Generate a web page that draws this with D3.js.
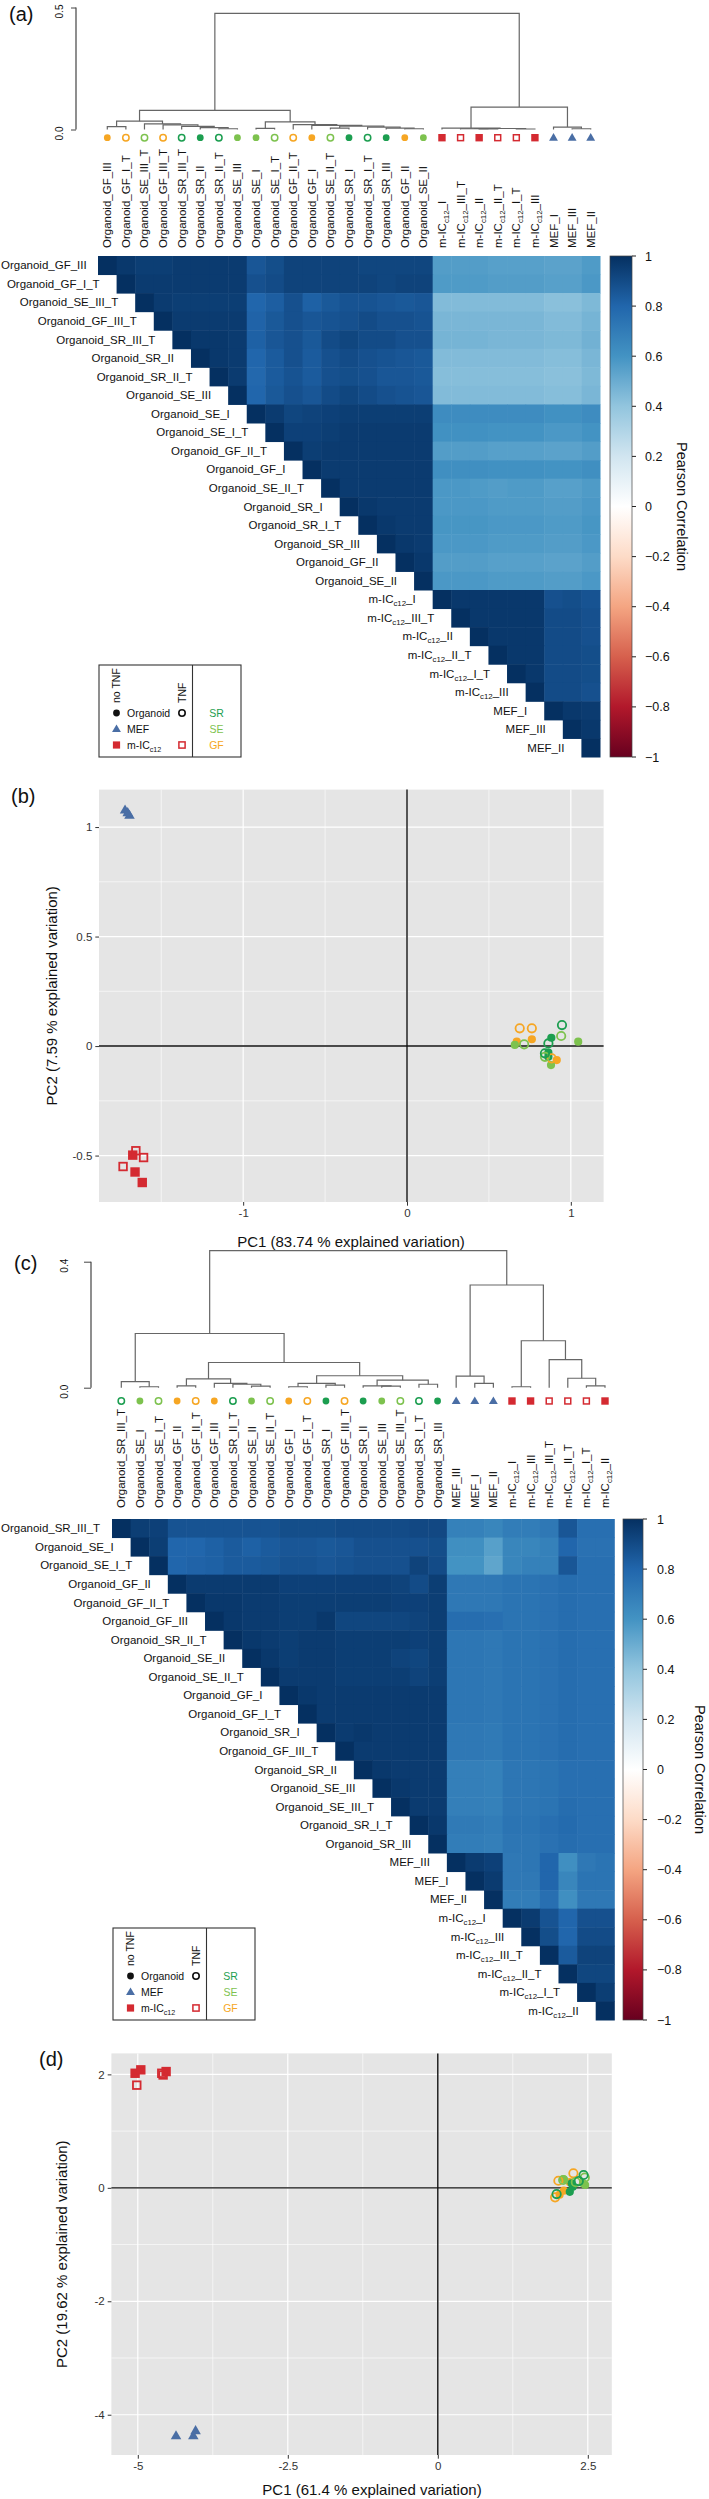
<!DOCTYPE html>
<html><head><meta charset="utf-8">
<script src="https://cdn.jsdelivr.net/npm/d3@7"></script>
<style>
body{margin:0;background:#fff}
text{font-family:"Liberation Sans",Arial,Helvetica,sans-serif}
</style></head>
<body><svg id="chart" width="709" height="2499"></svg>
<script>
// ---------------- DATA ----------------
const labelsA = ["Organoid_GF_III","Organoid_GF_I_T","Organoid_SE_III_T","Organoid_GF_III_T","Organoid_SR_III_T","Organoid_SR_II","Organoid_SR_II_T","Organoid_SE_III","Organoid_SE_I","Organoid_SE_I_T","Organoid_GF_II_T","Organoid_GF_I","Organoid_SE_II_T","Organoid_SR_I","Organoid_SR_I_T","Organoid_SR_III","Organoid_GF_II","Organoid_SE_II","m-IC_c12_I","m-IC_c12_III_T","m-IC_c12_II","m-IC_c12_II_T","m-IC_c12_I_T","m-IC_c12_III","MEF_I","MEF_III","MEF_II"];
// upper-triangle correlations (x100), row i holds columns i..26
const corrA = [
[100,97,95,95,96,96,96,96,86,89,93,93,93,93,92,92,92,92,56,56,56,55,55,55,54,54,57],
[100,96,96,96,96,96,96,88,90,93,93,93,93,93,92,93,93,57,57,57,56,56,56,55,55,58],
[100,96,95,95,95,95,80,83,88,82,85,87,87,86,85,86,44,44,44,44,44,44,42,42,45],
[100,96,96,96,96,81,85,88,86,87,88,90,88,88,87,46,46,46,46,46,46,44,44,47],
[100,97,97,96,82,86,88,85,90,92,90,90,88,88,47,47,47,46,46,46,45,45,48],
[100,97,96,80,84,88,84,88,90,88,87,86,85,44,44,44,44,44,44,43,43,46],
[100,96,79,84,87,84,88,89,88,86,86,85,43,43,43,43,43,43,42,42,45],
[100,80,85,88,86,90,92,90,88,87,86,44,44,44,44,44,44,43,43,46],
[100,96,92,93,94,95,95,95,95,95,63,63,63,63,63,63,61,61,63],
[100,94,94,95,96,96,96,96,96,61,61,61,60,60,60,58,58,60],
[100,95,96,96,96,96,96,96,56,56,56,55,55,55,54,54,56],
[100,96,96,96,96,96,96,62,62,62,61,61,61,60,60,62],
[100,96,96,96,96,96,58,58,57,56,57,57,55,55,57],
[100,97,96,96,96,58,58,58,57,57,57,56,56,58],
[100,97,96,96,59,59,59,58,58,58,57,57,59],
[100,97,96,58,58,58,57,57,57,56,56,58],
[100,97,56,56,56,55,55,55,54,54,56],
[100,58,58,58,57,57,57,56,56,58],
[100,97,97,97,97,97,88,89,87],
[100,97,97,97,97,90,90,88],
[100,97,97,97,90,90,88],
[100,97,97,90,90,89],
[100,97,90,90,89],
[100,90,90,88],
[100,97,96],
[100,97],
[100]
];
// dendrogram A: [left, right, height]; numbers are leaf indices
const treeA = [
  [[[0,1,0.012],[2,[3,[4,[5,[6,7,0.003],0.008],0.013],0.019],0.023],0.034],
   [[8,9,0.005],[10,[11,[[12,13,0.006],[14,[15,[16,17,0.003],0.006],0.010],0.014],0.017],0.020],0.031],0.078],
  [[18,[[19,[20,21,0.002],0.003],[22,23,0.002],0.004],0.006],[24,[25,26,0.003],0.010],0.092],
  0.476];

const labelsC = ["Organoid_SR_III_T","Organoid_SE_I","Organoid_SE_I_T","Organoid_GF_II","Organoid_GF_II_T","Organoid_GF_III","Organoid_SR_II_T","Organoid_SE_II","Organoid_SE_II_T","Organoid_GF_I","Organoid_GF_I_T","Organoid_SR_I","Organoid_GF_III_T","Organoid_SR_II","Organoid_SE_III","Organoid_SE_III_T","Organoid_SR_I_T","Organoid_SR_III","MEF_III","MEF_I","MEF_II","m-IC_c12_I","m-IC_c12_III","m-IC_c12_III_T","m-IC_c12_II_T","m-IC_c12_I_T","m-IC_c12_II"];
const corrC = [
[100,95,94,87,87,87,87,87,87,89,89,89,90,90,90,90,91,91,68,68,66,70,70,72,86,76,76],
[100,95,80,80,82,84,82,84,86,86,85,86,88,88,88,88,89,62,62,55,66,66,68,80,75,75],
[100,80,81,82,84,84,85,87,87,86,87,88,88,88,93,90,60,60,53,66,68,68,86,76,76],
[100,96,96,96,96,96,94,94,94,94,94,94,93,90,95,72,72,72,74,74,75,77,76,76],
[100,97,97,96,96,95,95,95,95,95,95,94,94,95,72,72,72,74,74,75,77,76,76],
[100,97,96,96,95,95,97,92,92,92,92,93,95,77,77,76,74,74,75,77,76,76],
[100,97,96,95,96,96,95,95,95,95,94,95,73,73,72,74,74,75,77,76,76],
[100,97,95,96,96,95,95,95,93,92,95,73,73,72,74,74,75,77,76,76],
[100,96,96,96,95,95,95,95,93,95,73,73,72,74,74,75,77,76,76],
[100,97,96,96,96,96,96,96,96,73,73,72,74,74,75,77,76,76],
[100,96,96,96,96,96,96,96,73,73,72,74,74,75,77,76,76],
[100,96,97,96,96,96,96,72,72,71,74,74,75,77,76,76],
[100,96,96,96,96,96,72,72,71,74,74,75,77,76,76],
[100,97,96,96,96,69,69,68,73,73,74,76,76,76],
[100,97,96,96,69,69,68,73,73,74,76,76,76],
[100,96,96,69,69,68,73,73,74,77,76,76],
[100,97,71,71,70,74,74,76,78,76,76],
[100,70,70,69,73,73,75,77,76,76],
[100,96,94,72,73,80,62,72,74],
[100,96,72,72,80,66,74,74],
[100,70,70,76,62,72,72],
[100,96,87,80,88,88],
[100,89,80,90,90],
[100,84,93,93],
[100,92,92],
[100,95],
[100]
];
const treeC = [
  [[0,[1,2,0.003],0.019],
   [[[3,4,0.006],[5,[6,[7,8,0.005],0.011],0.014],0.028],
    [[[9,10,0.003],[11,12,0.008],0.014],[[13,[14,15,0.005],0.006],[16,17,0.011],0.024],0.038],0.080],0.172],
  [[18,[19,20,0.014],0.037],[[21,22,0.003],[23,[24,[25,26,0.006],0.030],0.089],0.149],0.326],
  0.435];

// PCA (b)
const pcaB_sample = ["Organoid_GF_I","Organoid_GF_II","Organoid_GF_III","Organoid_SE_I","Organoid_SE_II","Organoid_SE_III","Organoid_SR_I","Organoid_SR_II","Organoid_SR_III","Organoid_GF_I_T","Organoid_GF_II_T","Organoid_GF_III_T","Organoid_SE_I_T","Organoid_SE_II_T","Organoid_SE_III_T","Organoid_SR_I_T","Organoid_SR_II_T","Organoid_SR_III_T","m-IC_c12_I","m-IC_c12_II","m-IC_c12_III","m-IC_c12_I_T","m-IC_c12_II_T","m-IC_c12_III_T","MEF_I","MEF_II","MEF_III"];
const pcaB_pc1 = [0.670,0.762,0.914,0.658,1.045,0.879,0.881,0.863,0.863,0.688,0.762,0.883,0.715,0.941,0.842,0.946,0.863,0.842,-1.674,-1.660,-1.616,-1.655,-1.608,-1.733,-1.721,-1.694,-1.705];
const pcaB_pc2 = [0.020,0.031,-0.064,0.005,0.020,-0.087,0.038,-0.030,-0.049,0.081,0.081,-0.056,0.008,0.046,-0.049,0.096,0.012,-0.033,-0.498,-0.575,-0.623,-0.478,-0.509,-0.550,1.078,1.054,1.066];
const pcaB_xMajor = [-1,0,1], pcaB_xMinor = [-1.5,-0.5,0.5];
const pcaB_yMajor = [-0.5,0,0.5,1], pcaB_yMinor = [-0.25,0.25,0.75];

// PCA (d)
const pcaD_sample = pcaB_sample;
const pcaD_pc1 = [2.03,2.10,2.20,2.455,2.42,2.10,2.23,2.20,2.25,2.01,2.26,1.955,2.09,2.45,2.30,1.98,2.43,2.35,-5.045,-4.95,-4.528,-5.017,-4.60,-4.578,-4.363,-4.075,-4.037];
const pcaD_pc2 = [-0.12,-0.05,0.10,0.05,0.08,0.15,0.079,-0.07,0.02,0.125,0.256,-0.168,0.138,0.18,0.10,-0.11,0.226,0.12,2.02,2.08,2.05,1.81,2.02,1.99,-4.37,-4.37,-4.28];
const pcaD_xMajor = [-5,-2.5,0,2.5], pcaD_xMinor = [-3.75,-1.25,1.25];
const pcaD_yMajor = [-4,-2,0,2], pcaD_yMinor = [-3,-1,1];

const cbTicks = [1,0.8,0.6,0.4,0.2,0,-0.2,-0.4,-0.6,-0.8,-1];
const rdbuStops = ["#67001F","#B2182B","#D6604D","#F4A582","#FDDBC7","#FFFFFF","#D1E5F0","#92C5DE","#4393C3","#2166AC","#053061"];

// ---------------- HELPERS ----------------
const svgEl = d3.select("#chart");
const defs = svgEl.append("defs");
const svg = svgEl.append("g");
const COL = {GF:"#f6a623", SE:"#7dc24e", SR:"#1c9e50", MIC:"#d42a31", MEF:"#4a6ea5"};
const rdbu = d3.scaleLinear().domain(rdbuStops.map((c,i)=>-1+i*0.2)).range(rdbuStops);

function info(lab){
  const tnf = /_T$/.test(lab);
  if(lab.startsWith("Organoid")) return {type:"org", tnf, color:COL[lab.split("_")[1]]};
  if(lab.startsWith("MEF")) return {type:"mef", tnf, color:COL.MEF};
  return {type:"mic", tnf, color:COL.MIC};
}
function setLabel(t, lab){
  const m = lab.match(/^m-IC_c12(_.*)$/);
  if(m){
    t.append("tspan").text("m-IC");
    t.append("tspan").attr("dy",3).style("font-size","0.68em").text("c12");
    t.append("tspan").attr("dy",-3).text(m[1]);
  } else t.text(lab);
}
function marker(g, lab, x, y, S){
  const f = info(lab);
  if(f.type==="org"){
    if(f.tnf) g.append("circle").attr("cx",x).attr("cy",y).attr("r",S.ro).attr("fill","none").attr("stroke",f.color).attr("stroke-width",S.sw);
    else g.append("circle").attr("cx",x).attr("cy",y).attr("r",S.rf).attr("fill",f.color);
  } else if(f.type==="mic"){
    if(f.tnf){const s=S.sq-S.sw; g.append("rect").attr("x",x-s/2).attr("y",y-s/2).attr("width",s).attr("height",s).attr("fill","none").attr("stroke",f.color).attr("stroke-width",S.sw);}
    else g.append("rect").attr("x",x-S.sq/2).attr("y",y-S.sq/2).attr("width",S.sq).attr("height",S.sq).attr("fill",f.color);
  } else {
    g.append("path").attr("d",d3.symbol(d3.symbolTriangle,S.tri)()).attr("transform",`translate(${x},${y+0.5})`).attr("fill",f.color);
  }
}
function panelLabel(txt,x,y){
  svg.append("text").attr("x",x).attr("y",y).style("font-size","20px").attr("fill","#111").text(txt);
}

function heatmap(P){
  const n = P.labels.length;
  const g = svg.append("g");
  const xs = d3.scaleBand().domain(d3.range(n)).range([P.x0,P.x1]);
  const ys = d3.scaleBand().domain(d3.range(n)).range([P.y0,P.y1]);
  P.rows.forEach((row,i)=>row.forEach((v,k)=>{
    const j=i+k;
    g.append("rect").attr("x",xs(j)).attr("y",ys(i))
      .attr("width",xs.bandwidth()+0.5).attr("height",ys.bandwidth()+0.5)
      .attr("fill",rdbu(v/100));
  }));
  P.labels.forEach((lab,i)=>{
    const t=g.append("text").attr("y",ys(i)+ys.bandwidth()/2+4)
      .attr("text-anchor","end").style("font-size","11.5px").attr("fill","#111");
    setLabel(t,lab);
    const w=t.node().getComputedTextLength();
    t.attr("x",Math.max(xs(i)-17, w+1));
  });
  // colorbar
  const id="grad"+P.id;
  const grad=defs.append("linearGradient").attr("id",id)
    .attr("x1",0).attr("y1",1).attr("x2",0).attr("y2",0);
  rdbuStops.forEach((c,i)=>grad.append("stop").attr("offset",(i*10)+"%").attr("stop-color",c));
  g.append("rect").attr("x",P.cb0).attr("y",P.y0).attr("width",P.cb1-P.cb0).attr("height",P.y1-P.y0)
    .attr("fill",`url(#${id})`).attr("stroke","#444").attr("stroke-width",0.7);
  const cs=d3.scaleLinear().domain([-1,1]).range([P.y1,P.y0]);
  cbTicks.forEach(v=>{
    g.append("line").attr("x1",P.cb1).attr("x2",P.cb1+4).attr("y1",cs(v)).attr("y2",cs(v)).attr("stroke","#222").attr("stroke-width",1);
    g.append("text").attr("x",P.cbl).attr("y",cs(v)+4.5).style("font-size","12.5px").attr("fill","#111")
      .text(String(v).replace("-","\u2212"));
  });
  g.append("text").attr("transform",`translate(${P.tx},${(P.y0+P.y1)/2}) rotate(90)`)
    .attr("text-anchor","middle").attr("dy","0.35em").style("font-size","14.5px").attr("fill","#111")
    .text("Pearson Correlation");
  return xs;
}

function dendro(P){
  const g=svg.append("g");
  const ys=d3.scaleLinear().domain([0,P.top]).range([P.base,P.yTop]);
  const lx = i => P.xs(i)+P.xs.bandwidth()/2;
  function walk(node){
    if(typeof node==="number") return {x:lx(node),h:0};
    const a=walk(node[0]), b=walk(node[1]), h=node[2];
    g.append("path").attr("d",`M${a.x},${ys(a.h)}V${ys(h)}H${b.x}V${ys(b.h)}`)
      .attr("fill","none").attr("stroke","#666").attr("stroke-width",1.2);
    return {x:(a.x+b.x)/2,h};
  }
  walk(P.tree);
  const ax=g.append("g").attr("transform",`translate(${P.axX},0)`)
    .call(d3.axisLeft(ys).tickValues([0,P.top]).tickSize(P.tick).tickFormat(d3.format(".1f")));
  ax.select(".domain").attr("d",`M0,${ys(0)}V${ys(P.top)}`).attr("stroke","#444").attr("stroke-width",1.2);
  ax.selectAll(".tick line").attr("stroke","#444");
  ax.selectAll(".tick text").attr("x",null).attr("dy",null).attr("y",0).attr("text-anchor","middle")
    .attr("transform",`translate(${P.lblX-P.axX},3.5) rotate(-90)`).style("font-size","10px").attr("fill","#111");
  P.labels.forEach((lab,i)=>{
    marker(g,lab,lx(i),P.mY,{rf:3.4,ro:3.2,sw:1.5,sq:7.4,tri:34});
    const t=g.append("text").attr("transform",`translate(${lx(i)+4},${P.lblBottom}) rotate(-90)`)
      .style("font-size","11.5px").attr("fill","#111");
    setLabel(t,lab);
  });
}

function legend(L,T){
  const g=svg.append("g");
  g.append("rect").attr("x",L).attr("y",T).attr("width",142).attr("height",92).attr("fill","#fff").attr("stroke","#333").attr("stroke-width",1.1);
  g.append("line").attr("x1",L+93.5).attr("x2",L+93.5).attr("y1",T).attr("y2",T+92).attr("stroke","#333").attr("stroke-width",1.1);
  const fs="10.5px";
  g.append("text").attr("transform",`translate(${L+21},${T+38}) rotate(-90)`).style("font-size",fs).attr("fill","#111").text("no TNF");
  g.append("text").attr("transform",`translate(${L+87},${T+38}) rotate(-90)`).style("font-size",fs).attr("fill","#111").text("TNF");
  const mx=L+17.5, ox=L+83;
  g.append("circle").attr("cx",mx).attr("cy",T+48).attr("r",3.4).attr("fill","#111");
  g.append("circle").attr("cx",ox).attr("cy",T+48).attr("r",3.2).attr("fill","none").attr("stroke","#111").attr("stroke-width",1.6);
  g.append("path").attr("d",d3.symbol(d3.symbolTriangle,34)()).attr("transform",`translate(${mx},${T+64.5})`).attr("fill",COL.MEF);
  g.append("rect").attr("x",mx-3.6).attr("y",T+80-3.6).attr("width",7.2).attr("height",7.2).attr("fill",COL.MIC);
  g.append("rect").attr("x",ox-3.1).attr("y",T+80-3.1).attr("width",6.2).attr("height",6.2).attr("fill","none").attr("stroke",COL.MIC).attr("stroke-width",1.5);
  g.append("text").attr("x",L+28).attr("y",T+48+3.8).style("font-size",fs).attr("fill","#111").text("Organoid");
  g.append("text").attr("x",L+28).attr("y",T+64+3.8).style("font-size",fs).attr("fill","#111").text("MEF");
  const t=g.append("text").attr("x",L+28).attr("y",T+80+3.8).style("font-size",fs).attr("fill","#111");
  t.append("tspan").text("m-IC"); t.append("tspan").attr("dy",3).style("font-size","0.68em").text("c12");
  [["SR",COL.SR,48],["SE",COL.SE,64],["GF",COL.GF,80]].forEach(([s,c,dy])=>{
    g.append("text").attr("x",L+117.5).attr("y",T+dy+3.8).attr("text-anchor","middle").style("font-size",fs).attr("fill",c).text(s);
  });
}

function pca(P){
  const g=svg.append("g");
  const x=d3.scaleLinear().domain(P.xDom).range([P.x0,P.x1]);
  const y=d3.scaleLinear().domain(P.yDom).range([P.y1,P.y0]);
  g.append("rect").attr("x",P.x0).attr("y",P.y0).attr("width",P.x1-P.x0).attr("height",P.y1-P.y0).attr("fill","#e5e5e5");
  P.xMinor.forEach(v=>g.append("line").attr("x1",x(v)).attr("x2",x(v)).attr("y1",P.y0).attr("y2",P.y1).attr("stroke","#fff").attr("stroke-width",0.6));
  P.yMinor.forEach(v=>g.append("line").attr("y1",y(v)).attr("y2",y(v)).attr("x1",P.x0).attr("x2",P.x1).attr("stroke","#fff").attr("stroke-width",0.6));
  P.xMajor.forEach(v=>g.append("line").attr("x1",x(v)).attr("x2",x(v)).attr("y1",P.y0).attr("y2",P.y1).attr("stroke","#fff").attr("stroke-width",1.2));
  P.yMajor.forEach(v=>g.append("line").attr("y1",y(v)).attr("y2",y(v)).attr("x1",P.x0).attr("x2",P.x1).attr("stroke","#fff").attr("stroke-width",1.2));
  g.append("line").attr("x1",x(0)).attr("x2",x(0)).attr("y1",P.y0).attr("y2",P.y1).attr("stroke","#111").attr("stroke-width",1.4);
  g.append("line").attr("y1",y(0)).attr("y2",y(0)).attr("x1",P.x0).attr("x2",P.x1).attr("stroke","#111").attr("stroke-width",1.4);
  const ax=g.append("g").attr("transform",`translate(${P.x0},0)`)
    .call(d3.axisLeft(y).tickValues(P.yMajor).tickSize(3.7).tickPadding(3).tickFormat(v=>String(v)));
  const bx=g.append("g").attr("transform",`translate(0,${P.y1})`)
    .call(d3.axisBottom(x).tickValues(P.xMajor).tickSize(3.7).tickPadding(3).tickFormat(v=>String(v)));
  [ax,bx].forEach(a=>{a.select(".domain").remove(); a.selectAll(".tick line").attr("stroke","#333");
    a.selectAll(".tick text").style("font-size","11.5px").attr("fill","#333").style("font-family",'"Liberation Sans",Arial,sans-serif');});
  g.append("text").attr("x",P.xtX).attr("y",P.xtY).attr("text-anchor","middle").style("font-size","15px").attr("fill","#111").text(P.xTitle);
  g.append("text").attr("transform",`translate(${P.ytX},${(P.y0+P.y1)/2}) rotate(-90)`).attr("text-anchor","middle").style("font-size","15px").attr("fill","#111").text(P.yTitle);
  P.samples.forEach((s,i)=>marker(g,s,x(P.pc1[i]),y(P.pc2[i]),{rf:4.1,ro:4.2,sw:1.8,sq:9.4,tri:48}));
}

// ---------------- PANEL A ----------------
panelLabel("(a)",9,21);
const xsA = heatmap({id:"A",labels:labelsA,rows:corrA,x0:98,x1:600,y0:256,y1:757,cb0:610,cb1:632,cbl:645,tx:682});
dendro({tree:treeA,labels:labelsA,xs:xsA,top:0.5,base:129.5,yTop:7.5,axX:76,tick:5,lblX:63,mY:137.7,lblBottom:248});
legend(99,665);

// ---------------- PANEL B ----------------
panelLabel("(b)",11,803);
pca({x0:99,x1:603.6,y0:789.6,y1:1202,xDom:[-1.88,1.20],yDom:[-0.712,1.171],
  xMajor:pcaB_xMajor,xMinor:pcaB_xMinor,yMajor:pcaB_yMajor,yMinor:pcaB_yMinor,
  samples:pcaB_sample,pc1:pcaB_pc1,pc2:pcaB_pc2,
  xTitle:"PC1 (83.74 % explained variation)",xtX:351,xtY:1246.5,
  yTitle:"PC2 (7.59 % explained variation)",ytX:57});

// ---------------- PANEL C ----------------
panelLabel("(c)",14,1270);
const xsC = heatmap({id:"C",labels:labelsC,rows:corrC,x0:112,x1:614.3,y0:1519,y1:2020,cb0:623,cb1:643,cbl:657,tx:700});
dendro({tree:treeC,labels:labelsC,xs:xsC,top:0.4,base:1387.7,yTop:1261.7,axX:91,tick:7,lblX:68,mY:1401,lblBottom:1508});
legend(113,1928);

// ---------------- PANEL D ----------------
panelLabel("(d)",39,2066);
pca({x0:111.4,x1:611.8,y0:2053.4,y1:2455,xDom:[-5.44,2.90],yDom:[-4.71,2.37],
  xMajor:pcaD_xMajor,xMinor:pcaD_xMinor,yMajor:pcaD_yMajor,yMinor:pcaD_yMinor,
  samples:pcaD_sample,pc1:pcaD_pc1,pc2:pcaD_pc2,
  xTitle:"PC1 (61.4 % explained variation)",xtX:372,xtY:2495,
  yTitle:"PC2 (19.62 % explained variation)",ytX:66.5});
</script>
</body></html>
